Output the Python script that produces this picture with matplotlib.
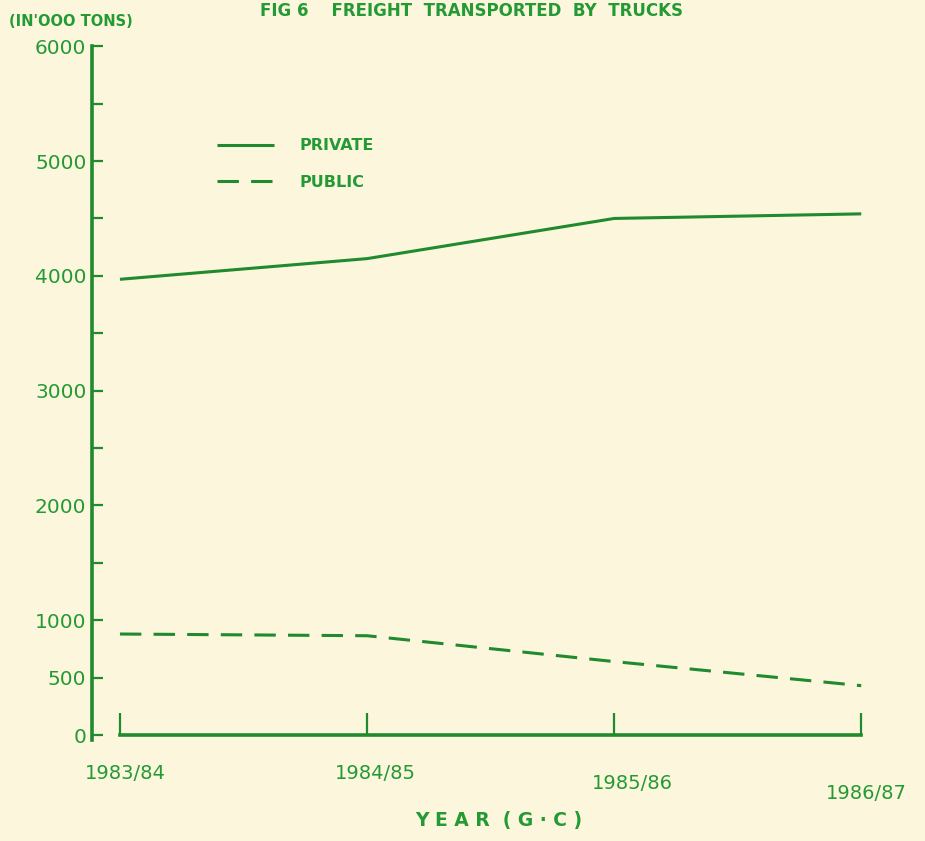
import matplotlib
matplotlib.use("Agg")
import matplotlib.pyplot as plt
from matplotlib.ticker import FixedLocator
from matplotlib.transforms import ScaledTranslation

# values (in '000 tons)
years = ["1983/84", "1984/85", "1985/86", "1986/87"]
private = [3970, 4150, 4500, 4540]
public = [880, 865, 640, 430]

y_major = [0, 500, 1000, 2000, 3000, 4000, 5000, 6000]
y_minor = [1500, 2500, 3500, 4500, 5500]

green = "#1f8a2e"
text_green = "#249a34"
paper = "#fcf6dd"

plt.rcParams["font.family"] = ["DejaVu Sans"]

fig = plt.figure(figsize=(9.25, 8.41), dpi=100, facecolor=paper)
ax = fig.add_axes([0.0995, 0.126, 0.885, 0.819])
ax.set_facecolor(paper)

x = list(range(len(years)))
ax.plot(x, private, color=green, lw=2.2, solid_capstyle="butt", label="PRIVATE")
ax.plot(x, public, color=green, lw=2.2, dashes=(7, 4), label="PUBLIC")

ax.set_xlim(-0.113, 3.2)
ax.set_ylim(0, 6000)

# axes drawn like the hand-lettered original
for s in ["top", "right"]:
    ax.spines[s].set_visible(False)
ax.spines["left"].set_color(green)
ax.spines["left"].set_linewidth(2.6)
ax.spines["left"].set_bounds(-40, 6000)
ax.spines["bottom"].set_color(green)
ax.spines["bottom"].set_linewidth(2.6)
ax.spines["bottom"].set_bounds(0, 3)

ax.yaxis.set_major_locator(FixedLocator(y_major))
ax.yaxis.set_minor_locator(FixedLocator(y_minor))
ax.set_yticklabels([str(v) for v in y_major])
ax.tick_params(axis="y", which="both", direction="in", color=green, width=1.6,
               length=8, labelcolor=text_green, labelsize=14.5, pad=4)

ax.set_xticks(x)
ax.set_xticklabels(years)
ax.tick_params(axis="x", direction="in", color=green, width=1.6, length=16,
               labelcolor=text_green, labelsize=14, pad=20.5)
# labels drift down and right a little, as in the scan
shifts = [(0.05, 0.0), (0.08, 0.0), (0.18, -0.10), (0.05, -0.20)]
for lab, (dx, dy) in zip(ax.get_xticklabels(), shifts):
    lab.set_transform(lab.get_transform() + ScaledTranslation(dx, dy, fig.dpi_scale_trans))

ax.set_xlabel("Y E A R  ( G · C )", color=text_green, fontsize=13.5, fontweight="bold")
ax.xaxis.set_label_coords(0.497, -0.11)

ax.text(-0.45, 6150, "(IN'OOO TONS)", color=text_green, fontsize=10.5,
        fontweight="bold", ha="left", va="bottom", clip_on=False)

fig.text(0.51, 0.998, "FIG 6    FREIGHT  TRANSPORTED  BY  TRUCKS", color=text_green,
         fontsize=12, fontweight="bold", ha="center", va="top")

leg = ax.legend(loc="upper left", bbox_to_anchor=(0.135, 0.887), frameon=False,
                handlelength=3.6, handletextpad=1.55, labelspacing=1.35,
                prop={"size": 11.5, "weight": "bold"})
for t in leg.get_texts():
    t.set_color(text_green)

fig.savefig("out.png", dpi=100, facecolor=paper)
